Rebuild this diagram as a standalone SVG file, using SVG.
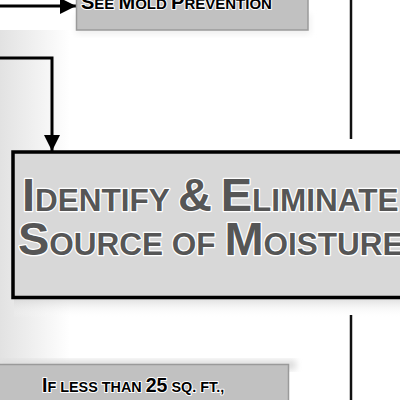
<svg xmlns="http://www.w3.org/2000/svg" width="400" height="400" viewBox="0 0 400 400">
<defs>
<linearGradient id="bgL" x1="0" y1="0" x2="1" y2="0">
<stop offset="0" stop-color="#e2e2e2"/>
<stop offset="1" stop-color="#ffffff"/>
</linearGradient>
<linearGradient id="shB" x1="0" y1="0" x2="0" y2="1">
<stop offset="0" stop-color="#bdbdbd"/>
<stop offset="1" stop-color="#ffffff" stop-opacity="0"/>
</linearGradient>
<filter id="blur" x="-20%" y="-20%" width="140%" height="140%">
<feGaussianBlur stdDeviation="3"/>
</filter>
<marker id="ah" viewBox="0 0 16 16" refX="16" refY="8" markerWidth="16" markerHeight="16" markerUnits="userSpaceOnUse" orient="auto">
<path d="M0,0 L16,8 L0,16 Z" fill="#000"/>
</marker>
<style>
.t{font-family:"Liberation Sans",Arial,sans-serif;font-weight:bold;paint-order:stroke;stroke-linejoin:round}
.dark{fill:#565656;stroke:#fff;stroke-width:2.5}
.blk{fill:#000;stroke:#fff;stroke-width:2}
.conn{stroke:#000;stroke-width:3;fill:none}
.box{fill:#c1c1c1;stroke:#9a9a9a;stroke-width:1.5}
</style>
</defs>
<rect width="400" height="400" fill="#fff"/>
<rect x="0" y="30" width="70" height="370" fill="url(#bgL)"/>
<rect x="76" y="14" width="234" height="20" fill="#eeeeee" filter="url(#blur)"/>
<rect x="14" y="290" width="390" height="28" fill="url(#shB)"/>
<rect x="0" y="360" width="296" height="10" fill="#dddddd" filter="url(#blur)"/>

<g id="connectors">
<line class="conn" x1="0" y1="6" x2="76" y2="6" marker-end="url(#ah)"/>
<polyline class="conn" points="0,58 52,58 52,151" marker-end="url(#ah)"/>
<line x1="351" y1="0" x2="351" y2="139" stroke="#111" stroke-width="2.5"/>
<line x1="351" y1="315" x2="351" y2="400" stroke="#111" stroke-width="2.5"/>
</g>

<g id="node-mold-prevention">
<rect class="box" x="76.5" y="-10" width="231.5" height="40"/>
<text class="t blk" x="81" y="8.5" font-size="20">S<tspan font-size="15">EE </tspan>M<tspan font-size="15">OLD </tspan>P<tspan font-size="15">REVENTION</tspan></text>
</g>

<g id="node-identify">
<rect x="13" y="152" width="400" height="145.5" fill="#d8d8d8" stroke="#000" stroke-width="3.5"/>
<text class="t dark" x="22" y="211" font-size="47">I<tspan font-size="31.5">DENTIFY </tspan>&amp;<tspan font-size="31.5"> </tspan>E<tspan font-size="31.5">LIMINATE</tspan></text>
<text class="t dark" x="18" y="255" font-size="47">S<tspan font-size="31.5">OURCE OF </tspan>M<tspan font-size="31.5">OISTURE</tspan></text>
</g>

<g id="node-less-than-25">
<rect class="box" x="-5" y="364.5" width="293.5" height="50"/>
<text class="t blk" x="42" y="392" font-size="19.5">I<tspan font-size="14.4">F LESS THAN </tspan>25<tspan font-size="14.4"> SQ. FT.,</tspan></text>
</g>
</svg>
